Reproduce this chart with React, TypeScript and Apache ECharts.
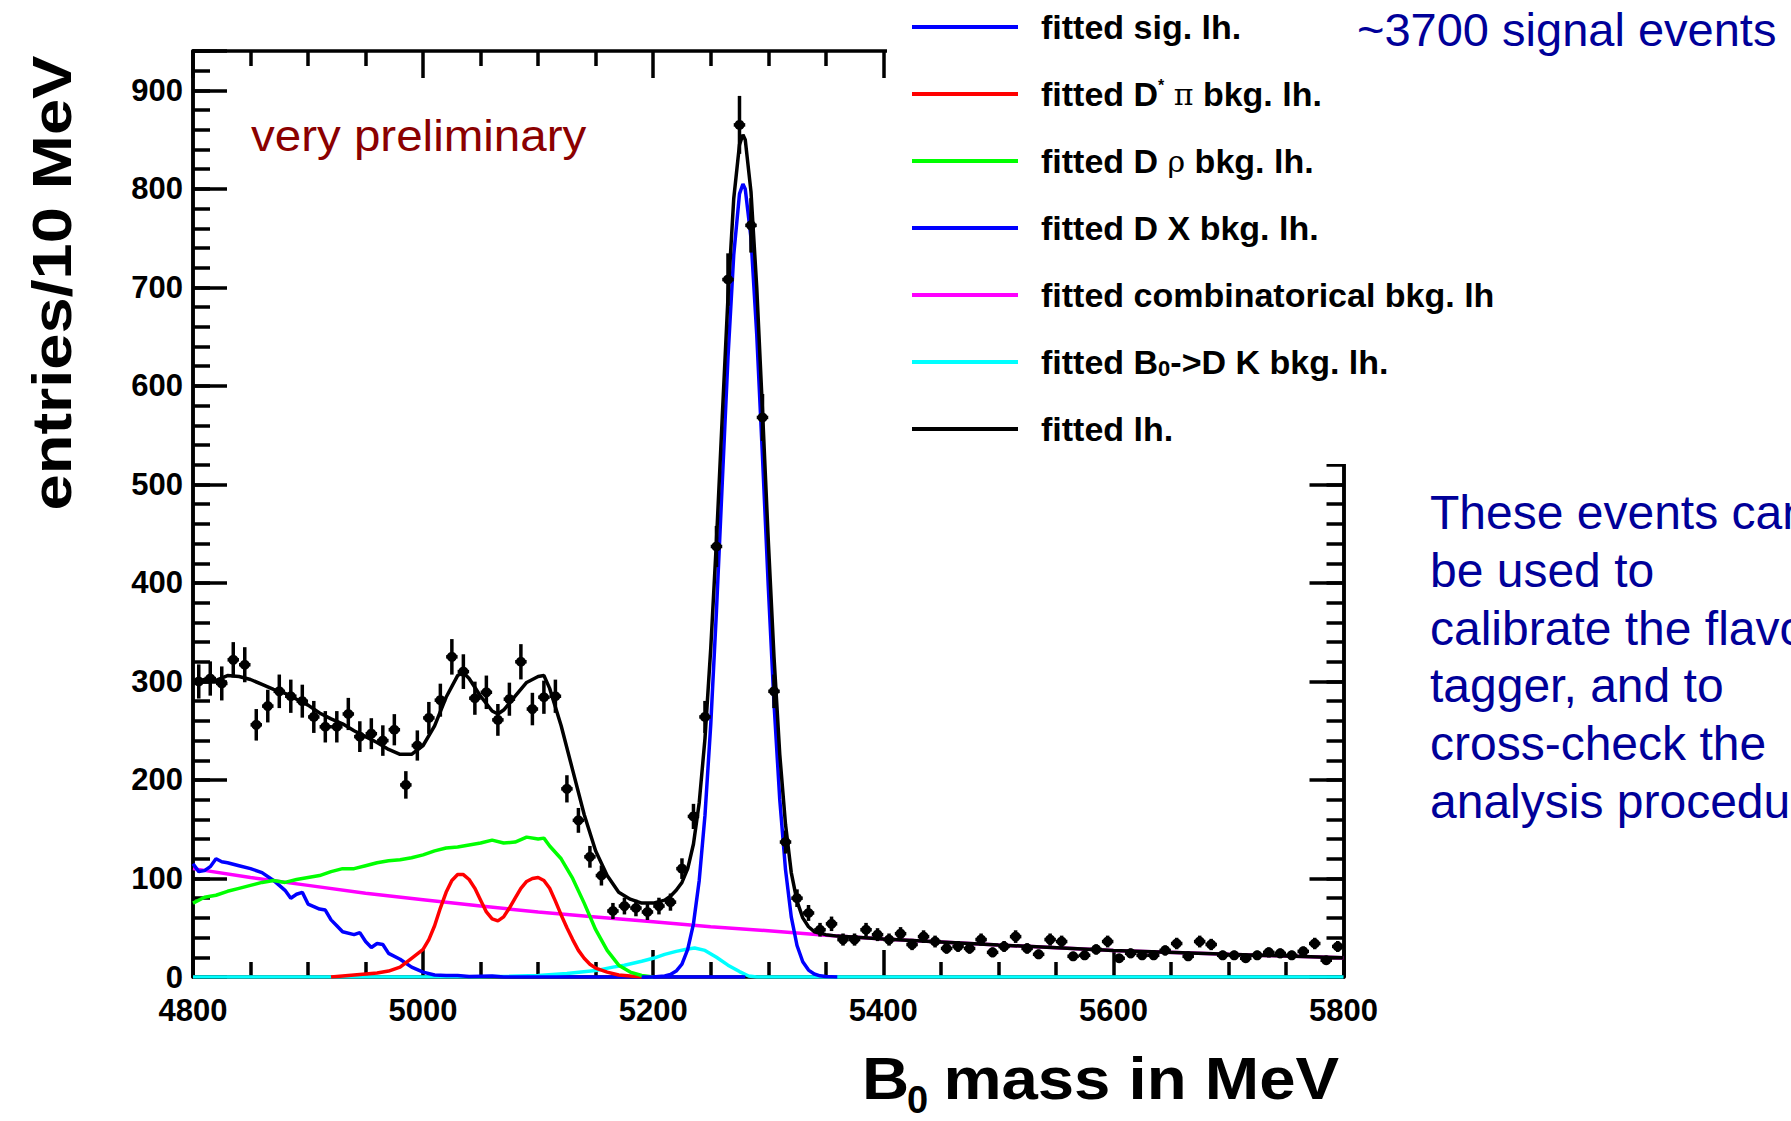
import React, { useEffect, useRef } from "react";
import * as echarts from "echarts";

// ---------- data ----------
const BIN_LOW = 4800;
const BIN_WIDTH = 10;
// entries per 10 MeV bin (bin centres 4805 ... 5795)
const counts = [
  300, 303, 298, 322, 317, 256, 275, 290, 285, 280, // 4805-4895
  264, 254, 254, 267, 244, 247, 240, 251, 195, 235, // 4905-4995
  263, 281, 325, 310, 283, 289, 261, 282, 320, 272, // 5005-5095
  284, 285, 191, 159, 122, 103, 67, 72, 70, 66, // 5105-5195
  72, 76, 110, 163, 264, 437, 708, 865, 763, 568, // 5205-5295
  290, 137, 80, 65, 48, 54, 38, 38, 48, 43, // 5305-5395
  38, 44, 33, 41, 36, 29, 31, 29, 38, 25, // 5405-5495
  31, 41, 29, 23, 38, 36, 21, 22, 28, 36, // 5505-5595
  19, 24, 22, 22, 27, 34, 21, 36, 33, 22, // 5605-5695
  22, 19, 22, 25, 24, 22, 26, 34, 17, 31, // 5705-5795
];

const sigCurve = [
  [5190, 0], [5200, 0.1], [5210, 1], [5215, 2.5], [5220, 6], [5225, 13], [5230, 28], [5235, 54],
  [5240, 98], [5245, 164], [5250, 256], [5255, 372], [5260, 501], [5265, 629], [5270, 733],
  [5275, 795], [5278, 805], [5280, 800], [5285, 750], [5290, 652], [5295, 528], [5300, 397],
  [5305, 278], [5310, 180], [5315, 109], [5320, 61], [5325, 32], [5330, 15.5], [5335, 7],
  [5340, 3], [5345, 1.2], [5350, 0.4], [5360, 0],
];

const dpiCurve = [
  [4920, 0], [4930, 1], [4940, 2], [4950, 3], [4960, 4], [4970, 6], [4980, 10], [4990, 19],
  [5000, 28], [5005, 38], [5010, 52], [5015, 70], [5020, 86], [5025, 98], [5030, 104],
  [5035, 104], [5040, 99], [5045, 90], [5050, 78], [5055, 66], [5060, 59], [5065, 57],
  [5070, 61], [5075, 70], [5080, 80], [5085, 90], [5090, 97], [5095, 100], [5100, 101],
  [5105, 98], [5110, 90], [5115, 77], [5120, 63], [5125, 50], [5130, 38], [5135, 27],
  [5140, 19], [5145, 13], [5150, 9], [5160, 5], [5170, 2], [5180, 1], [5190, 0],
];

const drhoCurve = [
  [4800, 75], [4810, 81], [4820, 83], [4830, 87], [4840, 90], [4850, 93], [4860, 96],
  [4870, 98], [4880, 96], [4890, 99], [4900, 101], [4910, 103], [4920, 107], [4930, 110],
  [4940, 110], [4950, 113], [4960, 116], [4970, 118], [4980, 119], [4990, 121], [5000, 124],
  [5010, 128], [5020, 131], [5030, 132], [5040, 134], [5050, 136], [5060, 139], [5070, 136],
  [5080, 137], [5090, 142], [5100, 140], [5105, 141], [5110, 133], [5120, 120], [5130, 100],
  [5140, 75], [5150, 48], [5160, 27], [5170, 12], [5180, 5], [5190, 1.5], [5200, 0],
];

const dxCurve = [
  [4800, 115], [4805, 107], [4810, 108], [4815, 112], [4820, 120], [4825, 117], [4830, 116],
  [4840, 113], [4850, 110], [4860, 106], [4870, 98], [4875, 93], [4880, 88], [4885, 80],
  [4890, 84], [4895, 86], [4900, 74], [4910, 69], [4915, 68], [4920, 58], [4925, 52],
  [4930, 46], [4940, 43], [4945, 45], [4950, 36], [4955, 30], [4960, 34], [4965, 33],
  [4970, 24], [4980, 18], [4990, 10], [5000, 5], [5010, 2], [5020, 1.5], [5030, 1.5],
  [5040, 0.5], [5060, 1], [5070, 0], [5280, 0],
];

const combCurve = [
  [4800, 110], [4850, 101], [4900, 93], [4950, 85], [5000, 78.5], [5050, 72], [5100, 66],
  [5150, 61], [5200, 56], [5250, 51], [5300, 47], [5350, 42.5], [5400, 38.5], [5500, 32.5],
  [5600, 27], [5700, 23], [5800, 19.5],
];

const dkCurve = [
  [4800, 0], [5050, 0.3], [5075, 0.8], [5100, 1.5], [5125, 3.5], [5150, 6.5], [5165, 10],
  [5175, 12], [5190, 16], [5200, 19], [5210, 23], [5220, 26], [5230, 28.5], [5236, 29.5],
  [5245, 27], [5255, 20], [5265, 12], [5275, 5.5], [5283, 1], [5290, 0], [5800, 0],
];

const totalCurve = [
  [4800, 298], [4810, 302], [4820, 301], [4830, 306], [4840, 305], [4850, 302], [4860, 297],
  [4870, 292], [4880, 288], [4890, 282], [4900, 276], [4910, 268], [4920, 262], [4930, 257],
  [4940, 250], [4950, 244], [4960, 238], [4970, 231], [4980, 226], [4990, 226], [5000, 235],
  [5010, 255], [5020, 284], [5030, 306], [5035, 309], [5040, 303], [5050, 285], [5060, 270],
  [5065, 267], [5070, 271], [5080, 285], [5090, 299], [5100, 305], [5105, 306], [5110, 293],
  [5120, 255], [5130, 210], [5140, 165], [5150, 128], [5160, 103], [5170, 86], [5180, 79],
  [5190, 75], [5200, 75], [5210, 78], [5215, 82], [5220, 88], [5225, 96], [5230, 110],
  [5235, 135], [5240, 177], [5245, 242], [5250, 333], [5255, 443], [5260, 568], [5265, 690],
  [5270, 790], [5275, 845], [5278, 855], [5280, 850], [5285, 797], [5290, 700], [5295, 575],
  [5300, 444], [5305, 325], [5310, 226], [5315, 155], [5320, 106], [5325, 77], [5330, 60],
  [5335, 51], [5340, 46], [5350, 43], [5360, 41.5], [5400, 38.5], [5500, 32.5], [5600, 27],
  [5700, 23], [5800, 19.5],
];

const NAMES = {
  sig: "fitted sig. lh.",
  dpi: "fitted D* π bkg. lh.",
  drho: "fitted D ρ bkg. lh.",
  dx: "fitted D X bkg. lh.",
  comb: "fitted combinatorical bkg. lh",
  dk: "fitted B0->D K bkg. lh.",
  total: "fitted lh.",
};
const LEGEND_ORDER = [NAMES.sig, NAMES.dpi, NAMES.drho, NAMES.dx, NAMES.comb, NAMES.dk, NAMES.total];
const LEGEND_RICH: Record<string, string> = {
  [NAMES.dpi]: "fitted D{sup|*} {sym|π} bkg. lh.",
  [NAMES.drho]: "fitted D {sym|ρ} bkg. lh.",
  [NAMES.dk]: "fitted B{sub|0}->D K bkg. lh.",
};

const X_TICKS = { min: 4800, max: 5800, interval: 200 };
const Y_TICKS = { min: 0, max: 940, major: 100, minor: 20 };

const Y_TITLE = "entries/10 MeV";
const X_TITLE_MAIN = "B";
const X_TITLE_SUB = "0";
const X_TITLE_REST = " mass in MeV";
const PRELIM = "very preliminary";
const SIGNAL_NOTE = "~3700 signal events";
const SIDE_NOTE = [
  "These events can",
  "be used to",
  "calibrate the flavour",
  "tagger, and to",
  "cross-check the",
  "analysis procedure",
];

const FONT = '"Liberation Sans", Arial, Helvetica, sans-serif';
const NAVY = "#000099";
const CURVE_W = 3.5;

export default function App() {
  const ref = useRef<HTMLDivElement>(null);

  useEffect(() => {
    if (!ref.current) return;
    const chart = echarts.init(ref.current, null, { renderer: "svg" });

    const axisLine = { show: true, onZero: false, lineStyle: { color: "#000", width: 3.5 } };
    const tickStyle = { color: "#000", width: 3.5 };
    const labelStyle = {
      color: "#000",
      fontFamily: FONT,
      fontWeight: "bold" as const,
      fontSize: 31,
    };

    const xAxisBase = {
      type: "value" as const,
      min: X_TICKS.min,
      max: X_TICKS.max,
      interval: X_TICKS.interval,
      axisLine,
      axisTick: { show: true, inside: true, length: 27, lineStyle: tickStyle },
      minorTick: { show: true, splitNumber: 4, length: 15, lineStyle: tickStyle },
      splitLine: { show: false },
      minorSplitLine: { show: false },
    };
    const yMajor = (pos: "left" | "right", labels: boolean) => ({
      type: "value" as const,
      position: pos,
      min: Y_TICKS.min,
      max: Y_TICKS.max,
      interval: Y_TICKS.major,
      axisLine,
      axisTick: { show: true, inside: true, length: 34, lineStyle: tickStyle },
      axisLabel: labels
        ? {
            show: true,
            margin: 10,
            ...labelStyle,
            formatter: (v: number) => (v % 100 === 0 ? String(v) : ""),
          }
        : { show: false },
      splitLine: { show: false },
    });
    const yMinor = (pos: "left" | "right") => ({
      type: "value" as const,
      position: pos,
      min: Y_TICKS.min,
      max: Y_TICKS.max,
      interval: Y_TICKS.minor,
      axisLine,
      axisTick: { show: true, inside: true, length: 17, lineStyle: tickStyle },
      axisLabel: { show: false },
      splitLine: { show: false },
    });

    const line = (name: string, data: number[][], color: string) => ({
      type: "line" as const,
      name,
      data,
      showSymbol: false,
      symbol: "none",
      lineStyle: { color, width: CURVE_W },
      itemStyle: { color },
      z: 2,
      clip: true,
      xAxisIndex: 0,
      yAxisIndex: 0,
      silent: true,
    });

    const points = counts.map((c, i) => [BIN_LOW + BIN_WIDTH * (i + 0.5), c]);

    const option: any = {
      animation: false,
      backgroundColor: "#fff",
      grid: {
        left: 193,
        right: 447.5,
        top: 51,
        bottom: 144,
        containLabel: false,
        outerBoundsMode: "none",
      },
      xAxis: [
        {
          ...xAxisBase,
          position: "bottom",
          axisLabel: { show: true, margin: 18, ...labelStyle, formatter: (v: number) => String(v) },
        },
        { ...xAxisBase, position: "top", axisLabel: { show: false } },
      ],
      yAxis: [yMajor("left", true), yMinor("left"), yMajor("right", false), yMinor("right")],
      legend: {
        data: LEGEND_ORDER,
        orient: "vertical",
        left: 887,
        top: 0,
        padding: [10, 60, 18, 25],
        itemWidth: 106,
        itemHeight: 4,
        itemGap: 33,
        icon: "rect",
        backgroundColor: "#fff",
        selectedMode: false,
        z: 5,
        formatter: (name: string) => LEGEND_RICH[name] ?? name,
        textStyle: {
          color: "#000",
          fontFamily: FONT,
          fontWeight: "bold",
          fontSize: 34,
          lineHeight: 34,
          padding: [0, 0, 0, 18],
          rich: {
            sup: { fontFamily: FONT, fontWeight: "bold", fontSize: 16, lineHeight: 16, verticalAlign: "top", color: "#000" },
            sub: { fontFamily: FONT, fontWeight: "bold", fontSize: 22, lineHeight: 20, verticalAlign: "bottom", color: "#000" },
            sym: { fontFamily: '"DejaVu Serif", serif', fontWeight: "normal", fontSize: 30, lineHeight: 34, color: "#000" },
          },
        },
      },
      series: [
        line(NAMES.comb, combCurve, "#ff00ff"),
        line(NAMES.dk, dkCurve, "#00ffff"),
        line(NAMES.dx, dxCurve, "#0000ff"),
        line(NAMES.dpi, dpiCurve, "#ff0000"),
        line(NAMES.drho, drhoCurve, "#00ff00"),
        line(NAMES.sig, sigCurve, "#0000ff"),
        line(NAMES.total, totalCurve, "#000000"),
        {
          type: "custom",
          name: "data",
          data: points,
          xAxisIndex: 0,
          yAxisIndex: 0,
          z: 3,
          clip: true,
          silent: true,
          encode: { x: 0, y: 1 },
          renderItem: (_params: any, api: any) => {
            const x = api.value(0);
            const y = api.value(1);
            const err = Math.sqrt(y);
            const c = api.coord([x, y]);
            const t = api.coord([x, y + err]);
            const b = api.coord([x, y - err]);
            const l = api.coord([x - BIN_WIDTH / 2, y]);
            const r = api.coord([x + BIN_WIDTH / 2, y]);
            const st = { stroke: "#000", lineWidth: 3.5 };
            return {
              type: "group",
              children: [
                { type: "line", shape: { x1: t[0], y1: t[1], x2: b[0], y2: b[1] }, style: st },
                { type: "line", shape: { x1: l[0], y1: l[1], x2: r[0], y2: r[1] }, style: st },
                { type: "circle", shape: { cx: c[0], cy: c[1], r: 5 }, style: { fill: "#000" } },
              ],
            };
          },
        },
      ],
      graphic: [
        {
          type: "text",
          x: 52,
          y: 283,
          rotation: Math.PI / 2,
          scaleX: 1.16,
          z: 100,
          style: {
            text: Y_TITLE,
            font: `bold 56px ${FONT}`,
            fill: "#000",
            align: "center",
            verticalAlign: "middle",
          },
        },
        {
          type: "text",
          x: 862,
          y: 1078.6,
          scaleX: 1.107,
          z: 100,
          style: { text: X_TITLE_MAIN, font: `bold 59px ${FONT}`, fill: "#000", align: "left", verticalAlign: "middle" },
        },
        {
          type: "text",
          x: 907,
          y: 1100,
          z: 100,
          style: { text: X_TITLE_SUB, font: `bold 38px ${FONT}`, fill: "#000", align: "left", verticalAlign: "middle" },
        },
        {
          type: "text",
          x: 1339,
          y: 1078.6,
          scaleX: 1.107,
          z: 100,
          style: { text: X_TITLE_REST, font: `bold 59px ${FONT}`, fill: "#000", align: "right", verticalAlign: "middle" },
        },
        {
          type: "text",
          x: 251,
          y: 136,
          scaleX: 1.08,
          z: 100,
          style: { text: PRELIM, font: `44px ${FONT}`, fill: "#8b0000", align: "left", verticalAlign: "middle" },
        },
        {
          type: "text",
          x: 1357,
          y: 29.7,
          z: 100,
          style: { text: SIGNAL_NOTE, font: `47px ${FONT}`, fill: NAVY, align: "left", verticalAlign: "middle" },
        },
        ...SIDE_NOTE.map((s, i) => ({
          type: "text",
          x: 1430,
          y: 512.4 + i * 57.8,
          z: 100,
          style: { text: s, font: `48px ${FONT}`, fill: NAVY, align: "left", verticalAlign: "middle" },
        })),
      ],
    };

    chart.setOption(option);
    return () => chart.dispose();
  }, []);

  return (
    <div
      ref={ref}
      style={{ position: "absolute", left: 0, top: 0, width: 1791, height: 1121, overflow: "hidden", background: "#fff" }}
    />
  );
}
